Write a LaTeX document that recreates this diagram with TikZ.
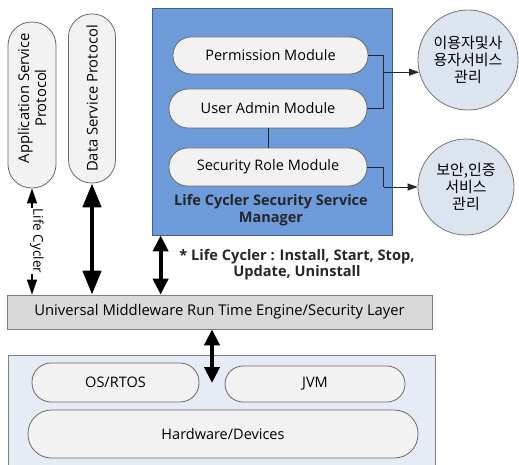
\documentclass[tikz,border=0pt]{standalone}
\usepackage{fontspec}
\setmainfont{Open Sans}
\newfontfamily\kr{Noto Sans CJK KR}
\usetikzlibrary{arrows.meta,calc}
\definecolor{pillfill}{RGB}{242,242,242}
\definecolor{pillline}{RGB}{105,105,105}
\definecolor{barfill}{RGB}{217,217,217}
\definecolor{barline}{RGB}{128,128,128}
\definecolor{lowfill}{RGB}{230,236,246}
\definecolor{bluefill}{RGB}{110,155,218}
\definecolor{blueline}{RGB}{65,95,140}
\definecolor{circfill}{RGB}{220,228,240}
\definecolor{circline}{RGB}{115,115,125}
\begin{document}
\begin{tikzpicture}[x=1pt,y=-1pt,
  pill/.style={draw=pillline, fill=pillfill, line width=0.8pt, inner sep=0pt, font=\fontsize{14.5}{17}\selectfont, align=center},
  circ/.style={circle, draw=circline, fill=circfill, line width=0.8pt, inner sep=0pt, font=\kr\fontsize{15}{17}\selectfont, align=center},
  thin/.style={line width=1.2pt, {Triangle[length=15pt,width=10pt]}-{Triangle[length=15pt,width=10pt]}},
  thick/.style={line width=4.5pt, {Triangle[length=24pt,width=18pt]}-{Triangle[length=24pt,width=18pt]}},
  mid/.style={line width=4pt, {Triangle[length=16pt,width=15pt]}-{Triangle[length=16pt,width=15pt]}},
  link/.style={line width=0.8pt, draw=black!85},
  linkarrow/.style={link, -{Triangle[length=10pt,width=7pt]}}
]
\useasboundingbox (0,0) rectangle (519,465);
% top-left pills
\node[pill, minimum width=48, minimum height=166, rounded corners=23.5] (app) at (32,105) {};
\node[rotate=90, font=\fontsize{14.8}{17}\selectfont, align=center] (apptxt) at (32,98) {Application Service\\Protocol};
\node[pill, minimum width=47, minimum height=169, rounded corners=23] (data) at (92,98.5) {};
\node[rotate=90, font=\fontsize{14.8}{17}\selectfont] (datatxt) at (92,98.5) {Data Service Protocol};
% blue manager box
\node[draw=blueline, fill=bluefill, line width=0.8pt, minimum width=240, minimum height=227, inner sep=0pt] (blue) at (272,121.5) {};
\node[pill, minimum width=195, minimum height=37, rounded corners=18] (perm) at (270.5,55.5) {Permission Module};
\node[pill, minimum width=198, minimum height=39, rounded corners=19] (user) at (268,108.5) {User Admin Module};
\node[pill, minimum width=198, minimum height=38, rounded corners=18.5] (sec) at (268,167) {Security Role Module};
\node[font=\bfseries\fontsize{14.5}{17}\selectfont, align=center, text=black!85] (title) at (271,210.5) {Life Cycler Security Service\\Manager};
\draw[link] (user.south) -- (sec.north);
% circles
\node[circ, minimum size=100] (c1) at (468,60) {이용자및사\\용자서비스\\관리};
\node[circ, minimum size=96] (c2) at (466,187) {보안,인증\\서비스\\관리};
\path (c1.194) ++(-36,0) coordinate (j1);
\path (c2.west) ++(-34,0) coordinate (j2);
\draw[link] (perm.east) -| (j1);
\draw[link] (user.east) -| (j1);
\draw[linkarrow] (j1) -- (c1.194);
\draw[link] (sec.east) -| (j2);
\draw[linkarrow] (j2) -- (c2.west);
% middleware bar
\node[draw=barline, fill=barfill, line width=0.8pt, minimum width=425, minimum height=34, inner sep=0pt, font=\fontsize{14.8}{17}\selectfont] (bar) at (219.5,312) {Universal Middleware Run Time Engine/Security Layer};
% lower box
\path[draw=barline, fill=lowfill, line width=0.8pt] (8,355) rectangle (435,468);
\node[pill, minimum width=167, minimum height=39, rounded corners=19] (os) at (115.5,382.5) {OS/RTOS};
\node[pill, minimum width=180, minimum height=36, rounded corners=18] (jvm) at (315,384) {JVM};
\node[pill, minimum width=390, minimum height=48, rounded corners=23.5] (hw) at (223,434) {Hardware/Devices};
% arrows
\draw[thin] (app.south) -- (app.south |- bar.north);
\node[rotate=-90, font=\fontsize{13.5}{15}\selectfont, fill=white, inner sep=0.5pt] (lc) at (37,241) {Life Cycler};
\draw[thick] (data.south) -- (data.south |- bar.north);
\coordinate (bb) at ($(blue.south west)+(9,0)$);
\draw[mid] (bb) -- (bb |- bar.north);
\coordinate (osend) at (212,383);
\draw[mid] (osend |- bar.south) -- (osend);
\node[font=\bfseries\fontsize{14.6}{16}\selectfont, align=center, text=black!85] (note) at (297,264.5) {* Life Cycler : Install, Start, Stop,\\Update, Uninstall};
\end{tikzpicture}
\end{document}
